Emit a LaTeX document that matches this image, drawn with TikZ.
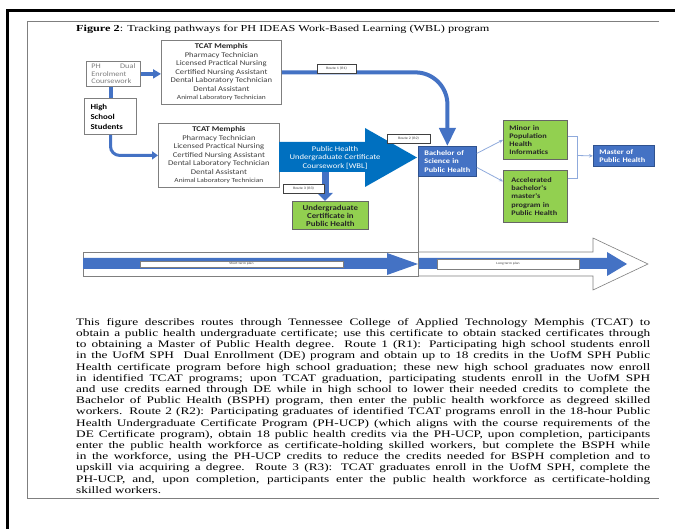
\documentclass[tikz,border=0pt]{standalone}
\usepackage{fontspec}
\setmainfont{Liberation Serif}[FakeStretch=1.33]
\newfontfamily\boxfont{Carlito}[FakeStretch=1.18]
\usetikzlibrary{arrows.meta,calc}

\definecolor{offblue}{HTML}{4472C4}
\definecolor{edgeblue}{HTML}{2F528F}
\definecolor{wblblue}{HTML}{0070C0}
\definecolor{leaf}{HTML}{92D050}
\definecolor{paleblue}{HTML}{8FAADC}
\definecolor{midgray}{HTML}{7F7F7F}
\definecolor{inkgray}{HTML}{404040}

\begin{document}
\begin{tikzpicture}[x=1pt, y=-1pt,
  plainbox/.style={draw=midgray, fill=white, line width=0.8pt, inner sep=0pt, anchor=north west,
    font=\boxfont\fontsize{7.3}{8.5}\selectfont, text=inkgray, align=center},
  bluebox/.style={draw=edgeblue, fill=offblue, line width=0.8pt, inner ysep=0pt, anchor=north west,
    font=\boxfont\bfseries\fontsize{7}{8.2}\selectfont, text=white, align=left},
  greenbox/.style={draw=black!60, fill=leaf, line width=0.8pt, inner ysep=0pt, anchor=north west,
    font=\boxfont\bfseries\fontsize{7}{8.2}\selectfont, text=black!85},
  routetag/.style={draw=inkgray, fill=white, line width=0.5pt, inner sep=0pt,
    font=\boxfont\fontsize{3.5}{4}\selectfont, text=inkgray},
  plantag/.style={draw=midgray, fill=white, line width=0.5pt, inner sep=0pt,
    font=\boxfont\fontsize{3.2}{4}\selectfont, text=inkgray},
  fatline/.style={draw=offblue, line width=4pt},
  thinlink/.style={draw=paleblue, line width=0.8pt},
]
\useasboundingbox (0,0) rectangle (675,529);

% frames
\draw[line width=3pt] (7.5,529) -- (7.5,11) -- (675,11);
\draw[midgray, line width=0.8pt] (659,21) -- (27,21) -- (27,498) -- (659,498);

\node[anchor=base west, inner sep=0pt, font=\fontsize{9.2}{12}\selectfont] (cap) at (76,31.5)
  {\textbf{Figure 2}: Tracking pathways for PH IDEAS Work-Based Learning (WBL) program};

% -------- left side -----------
\node[plainbox, draw=midgray, inner xsep=5pt, text width=44pt, minimum height=25pt, align=left,
  font=\boxfont\fontsize{7}{7.6}\selectfont, text=midgray] (ph) at (86,61)
  {PH\hskip 0pt plus 1filll Dual\\Enrolment\\Coursework};
\node[plainbox, line width=1pt, inner xsep=6pt, text width=40pt, minimum height=36pt, align=left,
  font=\boxfont\bfseries\fontsize{7.5}{10}\selectfont, text=black] (hs) at (84,98)
  {High\\School\\Students};

\node[plainbox, minimum width=120pt, minimum height=64pt] (tcat1) at (161,40)
  {\textbf{\color{black!85}TCAT Memphis}\\Pharmacy Technician\\Licensed Practical Nursing\\
   Certified Nursing Assistant\\Dental Laboratory Technician\\Dental Assistant\\
   {\fontsize{6.3}{8.5}\selectfont Animal Laboratory Technician}};
\node[plainbox, minimum width=121pt, minimum height=64pt] (tcat2) at (158,123)
  {\textbf{\color{black!85}TCAT Memphis}\\Pharmacy Technician\\Licensed Practical Nursing\\
   Certified Nursing Assistant\\Dental Laboratory Technician\\Dental Assistant\\
   {\fontsize{6.3}{8.5}\selectfont Animal Laboratory Technician}};

\draw[fatline] (hs.north) -- (hs.north |- ph.south);
\draw[fatline, line width=3.5pt, -{Triangle[width=9pt,length=8pt]}] (ph.east) -- (ph.east -| tcat1.west);
\draw[fatline, line width=3pt, rounded corners=9pt, -{Triangle[width=8pt,length=6pt]}] (hs.south) |- (tcat2.west);

% -------- certificate arrow -----------
\fill[wblblue] (279,142) -- (365,142) -- (365,128) -- (417,157.5) -- (365,187) -- (365,172) -- (279,172) -- cycle;
\node[font=\boxfont\fontsize{7.3}{8.5}\selectfont, text=white, align=center] (wbl) at (335,157.5)
  {Public Health\\Undergraduate Certificate\\Coursework [WBL]};

\node[greenbox, minimum width=76pt, minimum height=28pt, inner xsep=0pt, align=center,
  font=\boxfont\bfseries\fontsize{7.5}{8}\selectfont] (ugc) at (292,201)
  {Undergraduate\\Certificate in\\Public Health};
\coordinate (r3top) at (325,172);
\draw[fatline, line width=7pt, -{Triangle[width=15pt,length=8pt]}] (r3top) -- (r3top |- ugc.north);

% -------- right side -----------
\node[bluebox, inner xsep=6pt, text width=46pt, minimum height=30pt] (bsph) at (418,146)
  {Bachelor of\\Science in\\Public Health};
\node[greenbox, inner xsep=6pt, text width=52pt, minimum height=39pt, align=left] (minor) at (503,120)
  {Minor in\\Population\\Health\\Informatics};
\node[greenbox, inner xsep=8pt, text width=48pt, minimum height=52pt, align=left] (accel) at (503,170)
  {Accelerated\\bachelor's\\master's\\program in\\Public Health};
\node[bluebox, inner xsep=6pt, text width=49pt, minimum height=21pt] (master) at (593,145)
  {Master of\\Public Health};

\draw[fatline, rounded corners=32pt, -{Triangle[width=16pt,length=18pt]}] (tcat1.east) -| (bsph.north);

\draw[thinlink, -{Stealth[length=4pt,width=3.5pt]}] ($(bsph.east)+(0,-8)$) -- (minor.west);
\draw[thinlink, -{Stealth[length=4pt,width=3.5pt]}] ($(bsph.east)+(0,6)$) -- ($(accel.west)+(0,-15)$);
\coordinate (join) at (577,155.5);
\draw[thinlink] ($(minor.east)+(0,-3)$) -| (join);
\draw[thinlink] ($(accel.east)+(0,-18)$) -| (join);
\draw[thinlink, -{Stealth[length=4pt,width=3.5pt]}] (join) -- (master.west);

% route tags
\node[routetag, minimum width=39pt, minimum height=9pt] (r1) at (336.5,68.5) {Route 1 (R1)};
\node[routetag, minimum width=43pt, minimum height=9pt] (r2) at (408.5,138.5) {Route 2 (R2)};
\node[routetag, minimum width=41pt, minimum height=9pt] (r3) at (303.5,188.5) {Route 3 (R3)};

% -------- time line -----------
\draw[midgray, fill=white, line width=0.6pt] (83,252) rectangle (418,276);
\fill[offblue] (83,258) -- (387,258) -- (387,253) -- (418,264) -- (387,275) -- (387,269) -- (83,269) -- cycle;
\draw[midgray, fill=white, line width=0.6pt] (418,252) -- (593,252) -- (593,238) -- (648,264) -- (593,290) -- (593,276) -- (418,276);
\fill[offblue] (418,258) -- (607,258) -- (607,252) -- (627,264) -- (607,276) -- (607,269) -- (418,269) -- cycle;
\draw[midgray, line width=0.8pt] (bsph.south west) -- (bsph.south west |- 0,276);
\node[plantag, minimum width=203pt, minimum height=6pt] (short) at (241.5,264) {Short term plan};
\node[plantag, minimum width=142pt, minimum height=10pt] (long) at (508,264) {Long term plan};

% -------- description -----------
\node[anchor=north west, inner sep=0pt, text width=574pt, align=justify,
  font=\fontsize{10}{11.2}\selectfont] (desc) at (76,318)
  {\hyphenpenalty=10000\exhyphenpenalty=10000
  This figure describes routes through Tennessee College of Applied Technology Memphis (TCAT) to\linebreak
  obtain a public health undergraduate certificate; use this certificate to obtain stacked certificates through\linebreak
  to obtaining a Master of Public Health degree.\ \ Route 1 (R1): Participating high school students enroll\linebreak
  in the UofM SPH\ \ Dual Enrollment (DE) program and obtain up to 18 credits in the UofM SPH Public\linebreak
  Health certificate program before high school graduation; these new high school graduates now enroll\linebreak
  in identified TCAT programs; upon TCAT graduation, participating students enroll in the UofM SPH\linebreak
  and use credits earned through DE while in high school to lower their needed credits to complete the\linebreak
  Bachelor of Public Health (BSPH) program, then enter the public health workforce as degreed skilled\linebreak
  workers. Route 2 (R2): Participating graduates of identified TCAT programs enroll in the 18-hour Public\linebreak
  Health Undergraduate Certificate Program (PH-UCP) (which aligns with the course requirements of the\linebreak
  DE Certificate program), obtain 18 public health credits via the PH-UCP, upon completion, participants\linebreak
  enter the public health workforce as certificate-holding skilled workers, but complete the BSPH while\linebreak
  in the workforce, using the PH-UCP credits to reduce the credits needed for BSPH completion and to\linebreak
  upskill via acquiring a degree.\ \ Route 3 (R3): TCAT graduates enroll in the UofM SPH, complete the\linebreak
  PH-UCP, and, upon completion, participants enter the public health workforce as certificate-holding\linebreak
  skilled workers.};
\end{tikzpicture}
\end{document}
